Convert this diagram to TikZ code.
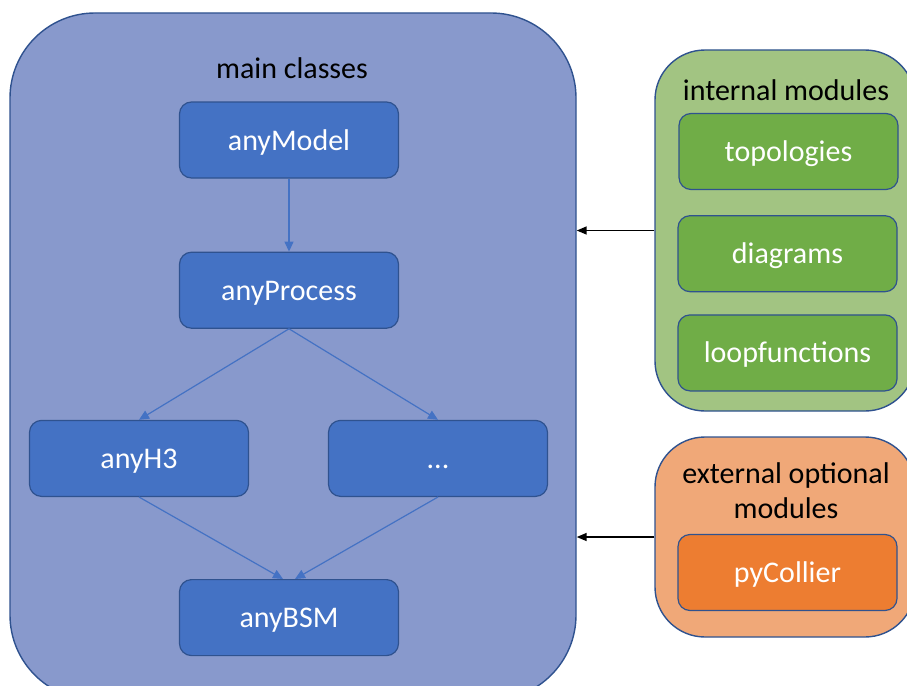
\documentclass[tikz,border=0pt]{standalone}
\usepackage{fontspec}
\setmainfont{Carlito}
\usetikzlibrary{arrows.meta,positioning}
\definecolor{edgeblue}{RGB}{47,82,143}
\definecolor{mainfill}{RGB}{136,153,204}
\definecolor{clsfill}{RGB}{68,114,196}
\definecolor{intfill}{RGB}{162,196,130}
\definecolor{intmod}{RGB}{112,173,71}
\definecolor{extfill}{RGB}{240,168,120}
\definecolor{extmod}{RGB}{237,125,49}

\begin{document}
\begin{tikzpicture}[x=1pt,y=-1pt,
  every node/.style={font=\fontsize{30}{35}\selectfont},
  group/.style={draw=edgeblue,line width=1.4pt,inner sep=0pt},
  clsbox/.style={draw=edgeblue,fill=clsfill,text=white,rounded corners=12pt,
    line width=1.2pt,minimum width=219pt,minimum height=76pt,inner sep=0pt,
    text height=20pt,text depth=0pt},
  modbox/.style={clsbox,fill=#1},
  flow/.style={-{Triangle[length=10pt,width=9pt]},clsfill,line width=1.2pt},
  feed/.style={-{Triangle[length=10pt,width=8pt]},black,line width=1.5pt}]
\useasboundingbox (0,0) rectangle (907,685);
\clip (0,0) rectangle (907,685);
% containers
\node[group,fill=mainfill,rounded corners=85pt,minimum width=566pt,
  minimum height=687pt] (main) at (293,356.5) {};
\node[group,fill=intfill,rounded corners=50pt,minimum width=260pt,
  minimum height=361pt] (intern) at (785,230.5) {};
\node[group,fill=extfill,rounded corners=50pt,minimum width=260pt,
  minimum height=200pt] (extern) at (785,537) {};
% main classes
\node (maintitle) at (292,68) {main classes};
\node[clsbox] (model) at (289,140) {anyModel};
\node[clsbox,below=73pt of model] (process) {anyProcess};
\node[clsbox,below=91pt of process,xshift=-150pt] (hthree) {anyH3};
\node[clsbox,below=91pt of process,xshift=149pt] (more) {...};
\node[clsbox,below=82pt of hthree,xshift=150pt] (bsm) {anyBSM};
\draw[flow] (model) -- (process);
\draw[flow] (process.south) -- (hthree.north);
\draw[flow] (process.south) -- (more.north);
\draw[flow] (hthree.south) -- ([xshift=-6pt]bsm.north);
\draw[flow] (more.south) -- ([xshift=6pt]bsm.north);
% internal modules
\node (inttitle) at (786,90) {internal modules};
\node[modbox=intmod] (topo) at (788.5,151.5) {topologies};
\node[modbox=intmod,below=25pt of topo,xshift=-1pt] (diag) {diagrams};
\node[modbox=intmod,below=22pt of diag] (loop) {loopfunctions};
% external optional modules
\node[align=center] (exttitle) at (786,491) {external optional\\modules};
\node[modbox=extmod] (collier) at (787.5,572.5) {pyCollier};
\draw[feed] (intern.west) -- (intern.west -| main.east);
\draw[feed] (extern.west) -- (extern.west -| main.east);
\end{tikzpicture}
\end{document}
